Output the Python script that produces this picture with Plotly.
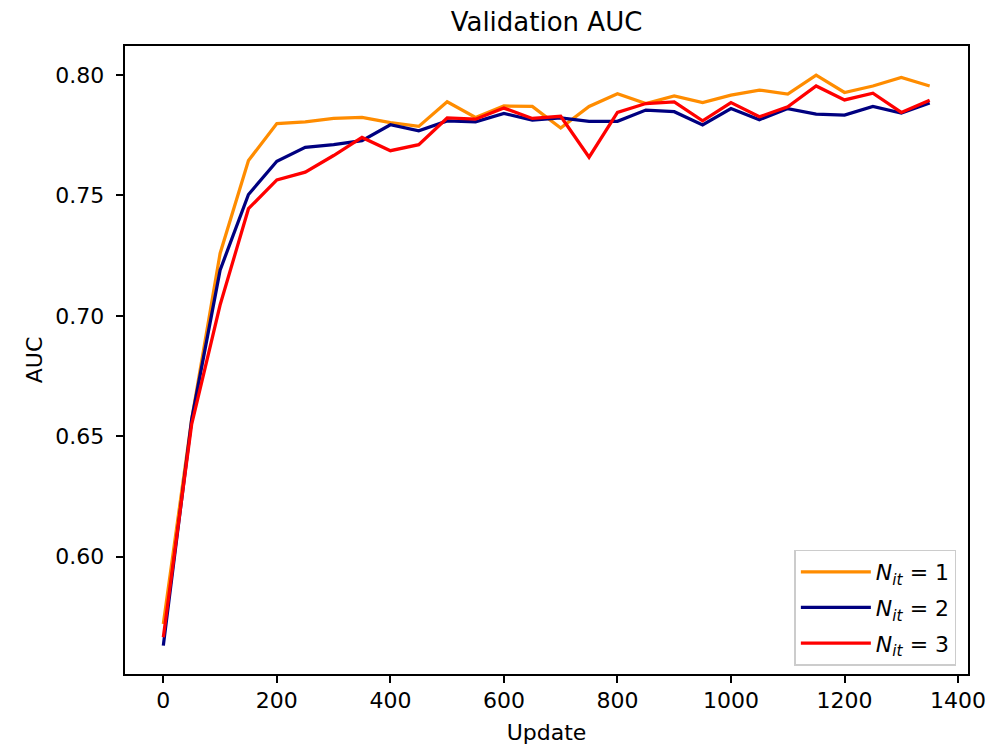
import plotly.graph_objects as go

updates = list(range(0, 1400, 50))

auc_nit1 = [0.572, 0.657, 0.7259, 0.7645, 0.7799, 0.7806, 0.782, 0.7824, 0.7803, 0.7787,
            0.7889, 0.7824, 0.7872, 0.787, 0.778, 0.787, 0.7923, 0.7882, 0.7914, 0.7886,
            0.7917, 0.7938, 0.7921, 0.8, 0.7928, 0.7955, 0.799, 0.7955]
auc_nit2 = [0.563, 0.657, 0.719, 0.7504, 0.7642, 0.770, 0.7711, 0.7728, 0.7794, 0.7769,
            0.781, 0.7806, 0.7841, 0.7813, 0.7822, 0.7808, 0.7808, 0.7855, 0.7848, 0.7793,
            0.7861, 0.7815, 0.7861, 0.7838, 0.7834, 0.787, 0.7842, 0.7884]
auc_nit3 = [0.5665, 0.655, 0.7045, 0.7445, 0.7565, 0.7597, 0.7666, 0.7741, 0.7686, 0.7711,
            0.7822, 0.7817, 0.7863, 0.782, 0.7829, 0.7659, 0.7845, 0.7882, 0.7889, 0.781,
            0.7886, 0.7827, 0.7868, 0.7955, 0.7897, 0.7925, 0.7845, 0.7896]

series = [
    ("<i>N</i><sub><i>it</i></sub> = 1", auc_nit1, "#FF8C00"),
    ("<i>N</i><sub><i>it</i></sub> = 2", auc_nit2, "#000080"),
    ("<i>N</i><sub><i>it</i></sub> = 3", auc_nit3, "#FF0000"),
]

x_ticks = [0, 200, 400, 600, 800, 1000, 1200, 1400]
y_ticks = [0.60, 0.65, 0.70, 0.75, 0.80]

fig = go.Figure()
for i, (name, vals, color) in enumerate(series):
    fig.add_trace(go.Scatter(x=updates, y=vals, mode="lines", name=name,
                             legendgroup=f"g{i}",
                             line=dict(color=color, width=3.25)))

font = "DejaVu Sans, sans-serif"
# page body has an 8px default margin, so the figure is 8px smaller
fig.update_layout(
    width=990, height=737,
    margin=dict(l=117, r=30, t=38, b=71),
    paper_bgcolor="white", plot_bgcolor="white",
    font=dict(family=font, size=22, color="black"),
    title=dict(text="Validation AUC", x=0.5, xanchor="center", xref="paper",
               y=1, yref="paper", yanchor="bottom", pad=dict(b=15),
               font=dict(size=26, family=font, color="black")),
    showlegend=True,
    legend=dict(x=0.9862, y=0.0135, xanchor="right", yanchor="bottom",
                bgcolor="rgba(255,255,255,0.8)", bordercolor="#cccccc", borderwidth=1.5,
                font=dict(size=22, family=font), tracegroupgap=4,
                itemwidth=70),
)
fig.update_xaxes(range=[-67.5, 1417.5], tickvals=x_ticks, ticktext=[str(v) for v in x_ticks],
                 automargin=False,
                 showgrid=False, zeroline=False, showline=True, linecolor="black", linewidth=1.7,
                 mirror=True, ticks="outside", ticklen=7.6, tickwidth=1.7, tickcolor="black",
                 ticklabelstandoff=-2,
                 title=dict(text="Update", standoff=24, font=dict(size=22)))
fig.update_yaxes(range=[0.5512, 0.8121], tickvals=y_ticks, ticktext=[f"{v:.2f}" for v in y_ticks],
                 automargin=False,
                 showgrid=False, zeroline=False, showline=True, linecolor="black", linewidth=1.7,
                 mirror=True, ticks="outside", ticklen=7.6, tickwidth=1.7, tickcolor="black",
                 ticklabelstandoff=7,
                 title=dict(text="AUC", standoff=6, font=dict(size=22)))

fig.write_html("out.html")
